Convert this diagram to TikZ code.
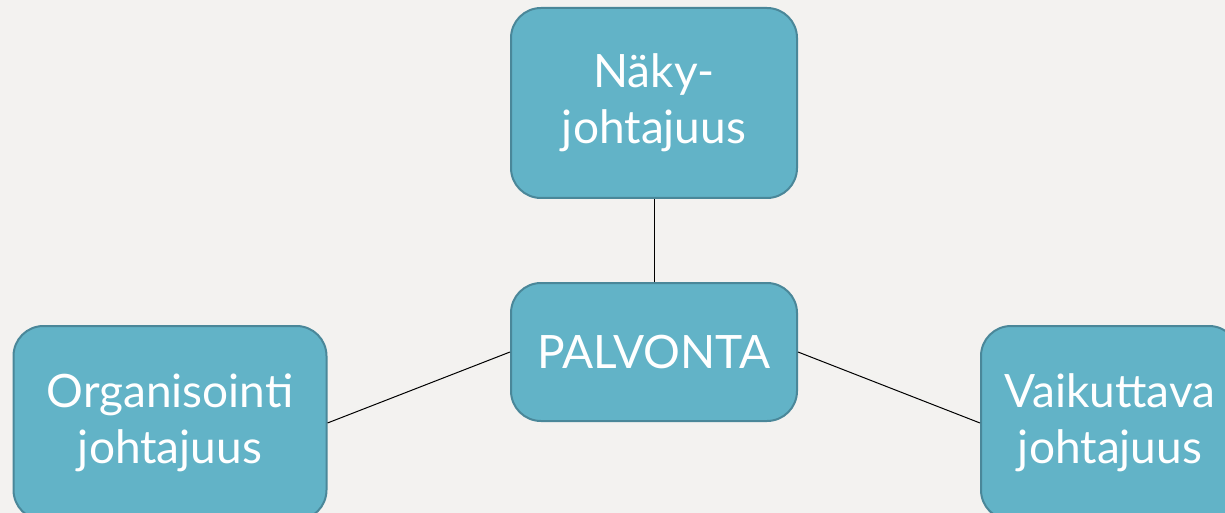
\documentclass[tikz,border=0pt]{standalone}
\usepackage{fontspec}
\setmainfont{Lato}
\usepackage{xcolor}

\definecolor{slidebg}{HTML}{F3F2F0}
\definecolor{boxfill}{HTML}{62B3C7}
\definecolor{boxline}{HTML}{4A8799}

\tikzset{
  lead/.style={draw=boxline, line width=1pt, fill=boxfill, rounded corners=15pt,
    text=white, align=center, font=\fontsize{23}{28}\selectfont, inner sep=0pt},
  link/.style={draw=black, line width=0.5pt}
}

\begin{document}
\begin{tikzpicture}[x=0.5pt, y=-0.5pt]
            \useasboundingbox (0,0) rectangle (1225,513);
            \fill[slidebg] (0,0) rectangle (1225,513);
            \clip (0,0) rectangle (1225,513);

            \node[lead, minimum width=143pt, minimum height=95pt] (Naky) at (654,103) {Näky-\\johtajuus};
            \node[lead, minimum width=143pt, minimum height=69pt] (Palvonta) at (654,352) {PALVONTA};
            \node[lead, minimum width=156.5pt, minimum height=97pt] (Organisointi) at (170,423) {Organisointi\\johtajuus};
            \node[lead, minimum width=129pt, minimum height=97pt] (Vaikuttava) at (1110,423) {Vaikuttava\\johtajuus};

            \draw[link] (Naky) -- (Palvonta);
            \draw[link] (Palvonta.west) -- (Organisointi.east);
            \draw[link] (Palvonta.east) -- (Vaikuttava.west);
        \end{tikzpicture}
\end{document}
